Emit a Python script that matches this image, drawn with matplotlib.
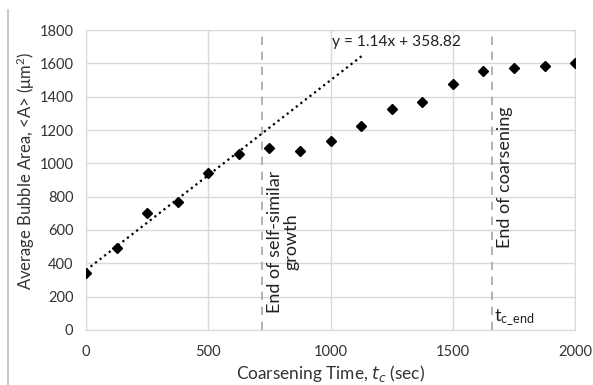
import numpy as np
import matplotlib.pyplot as plt
from matplotlib.lines import Line2D

plt.rcParams['font.family'] = ['Lato', 'DejaVu Sans']

# coarsening data
t_c = [0, 125, 250, 375, 500, 625, 750, 875, 1000, 1125, 1250, 1375, 1500, 1625, 1750, 1875, 2000]
area = [340, 490, 700, 770, 940, 1055, 1090, 1075, 1135, 1225, 1325, 1370, 1475, 1555, 1570, 1585, 1600]

slope = 1.14
intercept = 358.82
fit_end = 1130
t_selfsim = 720
t_end = 1660

fig = plt.figure(figsize=(5.93, 3.85), dpi=100)
ax = fig.add_axes([0.145, 0.143, 0.825, 0.779])

xfit = np.array([0, fit_end])
ax.plot(xfit, slope * xfit + intercept, color='black', linestyle=(0, (1, 1.6)), linewidth=1.6, zorder=3)
ax.plot(t_c, area, linestyle='none', marker='D', color='black', markersize=5.5, zorder=4)

ax.axvline(t_selfsim, color='#a6a6a6', linestyle=(0, (5, 4)), linewidth=1.2, zorder=2)
ax.axvline(t_end, color='#a6a6a6', linestyle=(0, (5, 4)), linewidth=1.2, zorder=2)

ax.text(1004, 1730, 'y = 1.14x + 358.82', fontsize=11.2, va='center', ha='left', color='#222222')
ax.text(806, 102, 'End of self-similar\ngrowth', rotation=90, fontsize=13, ha='center', va='bottom',
        multialignment='center', color='#222222', linespacing=1.0)
ax.text(1714, 492, 'End of coarsening', rotation=90, fontsize=13, ha='center', va='bottom', color='#222222')
ax.text(1668, 72, r'$\mathregular{t_{c\_end}}$', fontsize=13, ha='left', va='center', color='#222222')

ax.set_xlim(0, 2000)
ax.set_ylim(0, 1800)
ax.set_xticks([0, 500, 1000, 1500, 2000])
ax.set_yticks(np.arange(0, 1801, 200))
ax.grid(True, color='#d9d9d9', linewidth=1)
ax.set_axisbelow(True)
for s in ax.spines.values():
    s.set_color('#d9d9d9')
ax.tick_params(length=0, labelsize=10.5, colors='#333333')
ax.tick_params(axis='x', pad=11)
ax.tick_params(axis='y', pad=9)

ax.set_xlabel(r'Coarsening Time, $t_c$ (sec)', fontsize=12.4, color='#333333', va='bottom')
ax.xaxis.set_label_coords(0.5, -0.18)
ax.set_ylabel(r'Average Bubble Area, <A> ($\mathregular{\mu m^2}$)', fontsize=12, color='#333333', va='center')
ax.yaxis.set_label_coords(-0.123, 0.53)

fig.add_artist(Line2D([8 / 593, 8 / 593], [0, 1 - 10 / 385], color='#bfbfbf', linewidth=1.2))

fig.savefig('out.png', dpi=100)
